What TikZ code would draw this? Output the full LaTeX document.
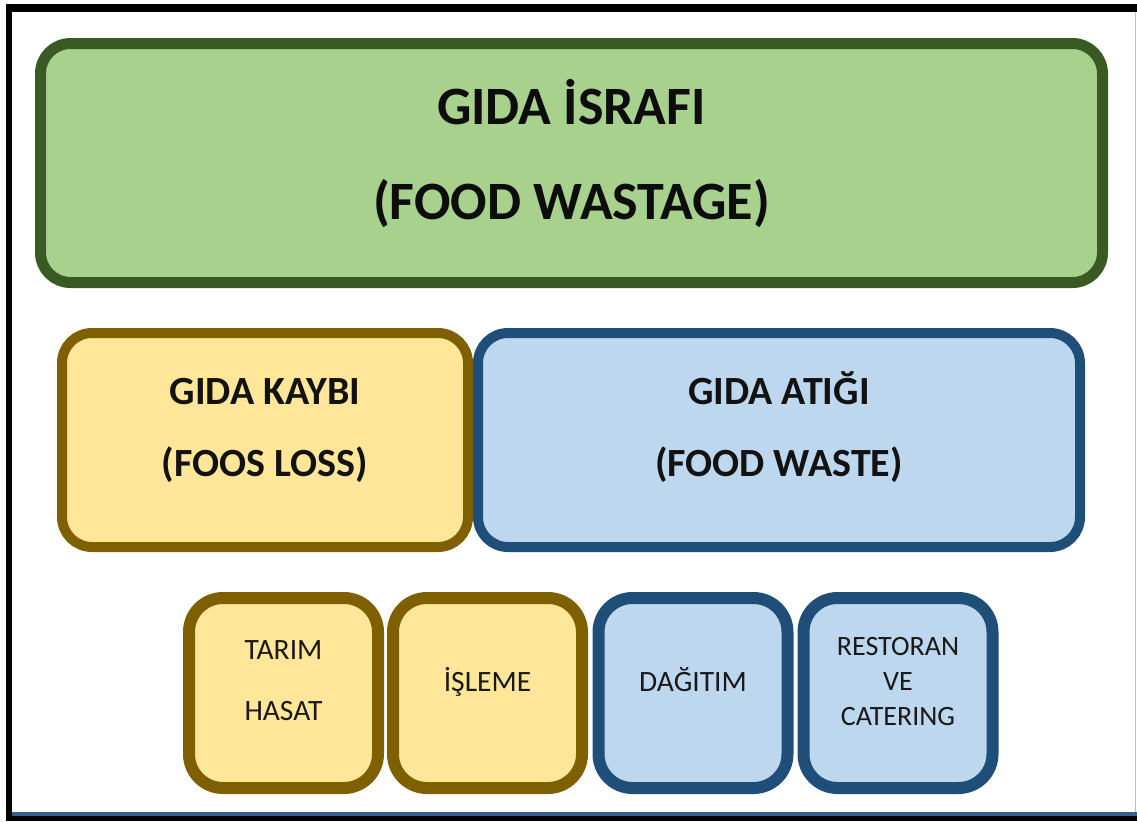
\documentclass[tikz,border=0pt]{standalone}
\usepackage{fontspec}
\setmainfont{Carlito}
\usepackage{xcolor}
\usepackage{tikz}
\usetikzlibrary{positioning}

\definecolor{wastagefill}{HTML}{A9D18E}
\definecolor{wastageline}{HTML}{3A5A24}
\definecolor{lossfill}{HTML}{FFE699}
\definecolor{lossline}{HTML}{7F6000}
\definecolor{wastefill}{HTML}{BDD7EE}
\definecolor{wasteline}{HTML}{1F4E79}
\definecolor{framblue}{HTML}{36608F}

\begin{document}
\begin{tikzpicture}[x=0.5pt,y=-0.5pt,
  box/.style={draw, inner sep=0pt, outer sep=0pt},
  bigbox/.style={box, line width=5.5pt, rounded corners=15pt},
  midbox/.style={box, line width=5pt, rounded corners=15pt, minimum height=107pt},
  smallbox/.style={box, line width=6pt, rounded corners=17pt, minimum width=94.5pt, minimum height=95pt},
  lossbox/.style={fill=lossfill, draw=lossline},
  wastebox/.style={fill=wastefill, draw=wasteline},
  toptext/.style={align=center, text=black!95, font=\bfseries\fontsize{27pt}{47.5pt}\selectfont},
  midtext/.style={align=center, text=black!93, font=\bfseries\fontsize{20pt}{36pt}\selectfont},
  lowtext/.style={align=center, text=black!90, font=\fontsize{14.75pt}{30.5pt}\selectfont}]
  \useasboundingbox (0,0) rectangle (1137,821);
  % frame
  \fill[black] (6,4) rectangle (1137,12);
  \fill[black] (6,4) rectangle (12,821);
  \fill[black] (6,816) rectangle (1137,821);
  \fill[framblue] (12,812) rectangle (1137,816);
  \draw[black!25, line width=0.4pt] (1135,12) -- (1135,812);
  % top
  \node[bigbox, fill=wastagefill, draw=wastageline, minimum width=531pt, minimum height=119.5pt] (israf) at (571.5,163) {};
  \node[toptext] (israf-t) at (571.5,153) {GIDA İSRAFI\\(FOOD WASTAGE)};
  % middle
  \node[midbox, lossbox, minimum width=203pt] (kayip) at (265,440) {};
  \node[midtext] (kayip-t) at (265,430) {GIDA KAYBI\\(FOOS LOSS)};
  \node[midbox, wastebox, minimum width=301pt] (atik) at (779,440) {};
  \node[midtext] (atik-t) at (779,427.5) {GIDA ATIĞI\\(FOOD WASTE)};
  % bottom
  \node[smallbox, lossbox] (tarim) at (283.5,693) {};
  \node[lowtext] (tarim-t) at (283.5,681) {TARIM\\HASAT};
  \node[smallbox, lossbox] (isleme) at (487.5,693) {};
  \node[lowtext] (isleme-t) at (487.5,682) {İŞLEME};
  \node[smallbox, wastebox] (dagitim) at (693,693) {};
  \node[lowtext] (dagitim-t) at (693,680) {DAĞITIM};
  \node[smallbox, wastebox] (restoran) at (898,693) {};
  \node[lowtext, font=\fontsize{14pt}{17.5pt}\selectfont] (restoran-t) at (898,681) {RESTORAN\\VE\\CATERING};
\end{tikzpicture}
\end{document}
